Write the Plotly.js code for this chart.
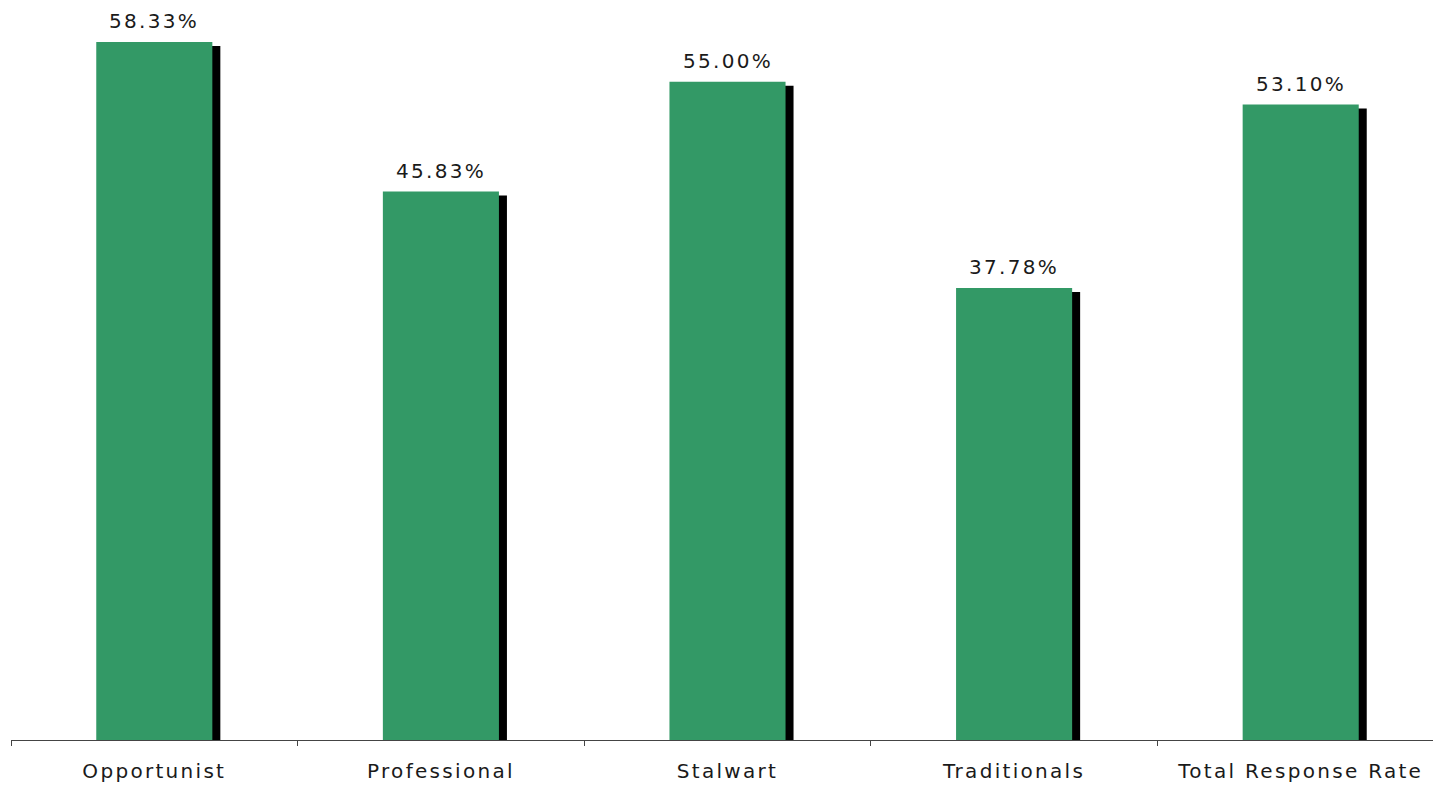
<!DOCTYPE html>
<html>
<head>
<meta charset="utf-8">
<script src="https://cdn.plot.ly/plotly-3.0.1.min.js"></script>
<style>
html, body { margin: 0; padding: 0; overflow: hidden; background: #fff; }
#chart { width: 1444px; height: 787px; }
.xtick text, .annotation-text { letter-spacing: 2.3px; }
</style>
</head>
<body>
<div id="chart"></div>
<script>
// Data
const categories = ["Opportunist", "Professional", "Stalwart", "Traditionals", "Total Response Rate"];
const responseRates = [58.33, 45.83, 55.00, 37.78, 53.10];
const valueLabels = ["58.33%", "45.83%", "55.00%", "37.78%", "53.10%"];

// Layout constants (style)
const W = 1444, H = 787;
const M = {l: 11, r: 0, t: 20, b: 47};
const yMax = 60.17;
const barWidth = 0.405;
const plotW = W - M.l - M.r, plotH = H - M.t - M.b;
const pxPerX = plotW / categories.length;
const pxPerY = plotH / yMax;
const shadowDx = 8 / pxPerX;   // 8px to the right
const shadowDy = 4 / pxPerY;   // 4px lower
const FONT = 'DejaVu Sans, Verdana, sans-serif';

const shadow = {
  type: 'bar',
  x: categories,
  y: responseRates,
  base: responseRates.map(() => -shadowDy),
  width: barWidth,
  offset: -barWidth / 2 + shadowDx,
  marker: {color: '#000000', line: {width: 0}},
  hoverinfo: 'skip',
  showlegend: false
};
const bars = {
  type: 'bar',
  x: categories,
  y: responseRates,
  width: barWidth,
  offset: -barWidth / 2,
  marker: {color: '#339966', line: {width: 0}},
  showlegend: false
};

const annotations = categories.map((c, i) => ({
  x: c, y: responseRates[i], xref: 'x', yref: 'y',
  text: valueLabels[i], showarrow: false,
  yanchor: 'bottom', xanchor: 'center', yshift: 7,
  font: {family: FONT, size: 20, color: '#1a1a1a'}
}));

const layout = {
  width: W, height: H,
  margin: M,
  paper_bgcolor: '#ffffff', plot_bgcolor: '#ffffff',
  barmode: 'overlay',
  showlegend: false,
  font: {family: FONT, size: 20, color: '#1a1a1a'},
  xaxis: {
    type: 'category',
    range: [-0.5, categories.length - 0.5],
    showline: true, linecolor: '#444444', linewidth: 1,
    ticks: 'outside', tickson: 'boundaries', ticklen: 5, tickcolor: '#444444', tickwidth: 1,
    showgrid: false, zeroline: false,
    ticklabelstandoff: 13,
    tickfont: {family: FONT, size: 20, color: '#1a1a1a'}
  },
  yaxis: {
    visible: false,
    range: [0, yMax],
    showgrid: false, zeroline: false
  },
  annotations: annotations
};

Plotly.newPlot('chart', [shadow, bars], layout, {displayModeBar: false, staticPlot: true});
</script>
</body>
</html>
